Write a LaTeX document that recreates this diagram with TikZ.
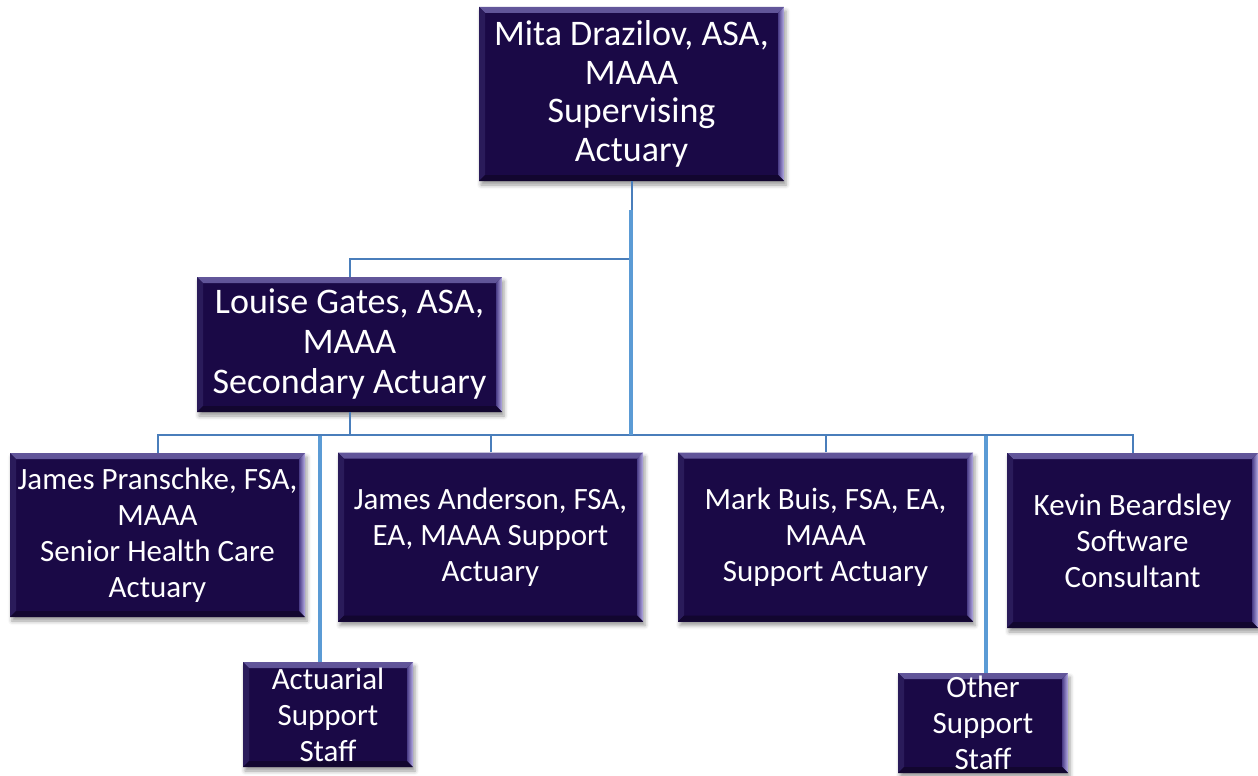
\documentclass[tikz,border=0pt]{standalone}
\usepackage{fontspec}
\setmainfont{Carlito}
\usetikzlibrary{shadows.blur}
\definecolor{boxdark}{HTML}{1A0946}
\definecolor{bevtopA}{HTML}{62569A}
\definecolor{bevtopB}{HTML}{2C1D5E}
\definecolor{bevrightA}{HTML}{B8AFE6}
\definecolor{bevrightB}{HTML}{4A3C86}
\definecolor{bevleft}{HTML}{2A1B5A}
\definecolor{bevbot}{HTML}{12062F}
\definecolor{thinblue}{HTML}{4A7EBB}
\definecolor{thickblue}{HTML}{5B9BD5}
\tikzset{
  orgbox/.style={rectangle, fill=boxdark, text=white, align=center, inner sep=0pt,
    blur shadow={shadow xshift=2pt, shadow yshift=-4pt, shadow blur radius=4pt, shadow opacity=40},
    path picture={
      \shade[top color=bevtopA, bottom color=bevtopB]
        (path picture bounding box.north west) -- (path picture bounding box.north east)
        -- ([xshift=-6pt,yshift=-6pt]path picture bounding box.north east)
        -- ([xshift=6pt,yshift=-6pt]path picture bounding box.north west) -- cycle;
      \fill[bevleft]
        (path picture bounding box.north west) -- ([xshift=6pt,yshift=-6pt]path picture bounding box.north west)
        -- ([xshift=6pt,yshift=6pt]path picture bounding box.south west)
        -- (path picture bounding box.south west) -- cycle;
      \shade[left color=bevrightB, right color=bevrightA]
        (path picture bounding box.north east) -- ([xshift=-6pt,yshift=-6pt]path picture bounding box.north east)
        -- ([xshift=-6pt,yshift=6pt]path picture bounding box.south east)
        -- (path picture bounding box.south east) -- cycle;
      \fill[bevbot]
        (path picture bounding box.south west) -- ([xshift=6pt,yshift=6pt]path picture bounding box.south west)
        -- ([xshift=-6pt,yshift=6pt]path picture bounding box.south east)
        -- (path picture bounding box.south east) -- cycle;
    }},
  bigtext/.style={font=\fontsize{36}{38.5}\selectfont},
  midtext/.style={font=\fontsize{36}{40}\selectfont},
  smalltext/.style={font=\fontsize{31}{36}\selectfont},
  thinline/.style={draw=thinblue, line width=2pt},
  thickline/.style={draw=thickblue, line width=4pt}
}
\begin{document}
\begin{tikzpicture}[x=1pt,y=-1pt]
\useasboundingbox (0,0) rectangle (1258,776);
\coordinate (busy) at (0,435);
\coordinate (jLouise) at (631,259);
\coordinate (mThick) at (631,210);
\coordinate (aTop) at (320,436);
\coordinate (oTop) at (986,436);

% boxes
\node[orgbox, bigtext, minimum width=305, minimum height=174] (mita) at (631.5,94)
  {Mita Drazilov, ASA,\\MAAA\\Supervising\\Actuary};
\node[orgbox, midtext, minimum width=305, minimum height=135] (louise) at (349.5,344.5)
  {Louise Gates, ASA,\\MAAA\\Secondary Actuary};
\node[orgbox, smalltext, minimum width=295, minimum height=164] (jp) at (157.5,535)
  {James Pranschke, FSA,\\MAAA\\Senior Health Care\\Actuary};
\node[orgbox, smalltext, minimum width=305, minimum height=169] (ja) at (490.5,537)
  {James Anderson, FSA,\\EA, MAAA Support\\Actuary};
\node[orgbox, smalltext, minimum width=295, minimum height=169] (mb) at (825.5,537)
  {Mark Buis, FSA, EA,\\MAAA\\Support Actuary};
\node[orgbox, smalltext, minimum width=251, minimum height=175] (kb) at (1132.5,540.5)
  {Kevin Beardsley\\Software\\Consultant};
\node[orgbox, smalltext, minimum width=170, minimum height=105] (act) at (328,714.5)
  {Actuarial\\Support\\Staff};
\node[orgbox, smalltext, minimum width=170, minimum height=100] (oth) at (983,723)
  {Other\\Support\\Staff};

% connectors
\draw[thinline] (mita.south) -- (mita.south |- busy);
\draw[thinline] (louise.north) |- (jLouise);
\draw[thinline] (louise.south) -- (louise.south |- busy);
\draw[thinline] (jp.north) -- (jp.north |- busy) -| (kb.north);
\draw[thinline] (ja.north) -- (ja.north |- busy);
\draw[thinline] (mb.north) -- (mb.north |- busy);
\draw[thickline] (mThick) -- (mThick |- busy);
\draw[thickline] (aTop) -- (aTop |- act.north);
\draw[thickline] (oTop) -- (oTop |- oth.north);
\end{tikzpicture}
\end{document}
